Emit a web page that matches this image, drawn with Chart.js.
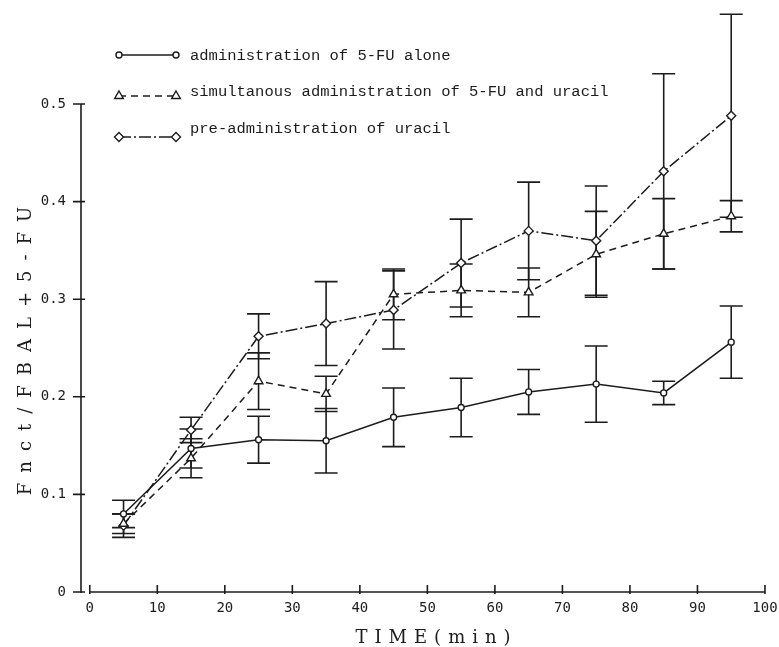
<!DOCTYPE html>
<html>
<head>
<meta charset="utf-8">
<script src="https://cdn.jsdelivr.net/npm/chart.js@4/dist/chart.umd.min.js"></script>
<style>
    html, body {
        margin: 0;
        padding: 0;
        background: #fff;
    }
    #wraper {
        width: 779px;
        height: 647px;
    }
</style>
</head>
<body>
<div id="wraper"><canvas id="chart" width="779" height="647"></canvas></div>
<script>
var TIMES = [5, 15, 25, 35, 45, 55, 65, 75, 85, 95];

// administration of 5-FU alone
var ALONE_MEAN = [0.080, 0.147, 0.156, 0.155, 0.179, 0.189, 0.205, 0.213, 0.204, 0.256];
var ALONE_ERR = [0.014, 0.020, 0.024, 0.033, 0.030, 0.030, 0.023, 0.039, 0.012, 0.037];

// simultanous administration
var SIMUL_MEAN = [0.070, 0.137, 0.216, 0.203, 0.305, 0.309, 0.307, 0.346, 0.367, 0.385];
var SIMUL_ERR = [0.010, 0.020, 0.029, 0.018, 0.026, 0.027, 0.025, 0.044, 0.036, 0.016];

// pre-administration of uracil
var PRE_MEAN = [0.068, 0.166, 0.262, 0.275, 0.289, 0.337, 0.370, 0.360, 0.431, 0.488];
var PRE_ERR = [0.012, 0.013, 0.023, 0.043, 0.040, 0.045, 0.050, 0.056, 0.100, 0.104];

var X_TICKS = [0, 10, 20, 30, 40, 50, 60, 70, 80, 90, 100];
var Y_TICKS = [0, 0.1, 0.2, 0.3, 0.4, 0.5];

var LEGEND_LABELS = [
    "administration of 5-FU alone",
    "simultanous administration of 5-FU and uracil",
    "pre-administration of uracil"
];
var X_TITLE = "TIME(min)";
var Y_TITLE = "Fnct/FBAL+5-FU";

var INK = "#1c1c1c";
var ERRORS = [ALONE_ERR, SIMUL_ERR, PRE_ERR];

function toPoints(means) {
    return TIMES.map(function(t, i) {
        return { x: t, y: means[i] };
    });
}

function fixTicks(values) {
    return function(scale) {
        scale.ticks = values.map(function(v) {
            return { value: v };
        });
    };
}

// error bars under the lines
var errorBars = {
    id: "errorBars",
    beforeDatasetsDraw: function(chart) {
        var ctx = chart.ctx,
            xs = chart.scales.x,
            ys = chart.scales.y,
            cap = 11.5;

        ctx.save();
        ctx.strokeStyle = INK;
        ctx.lineWidth = 1.6;
        chart.data.datasets.forEach(function(ds, d) {
            var errs = ERRORS[d];
            ds.data.forEach(function(p, i) {
                var x = xs.getPixelForValue(p.x),
                    top = ys.getPixelForValue(p.y + errs[i]),
                    bot = ys.getPixelForValue(p.y - errs[i]);
                ctx.beginPath();
                ctx.moveTo(x, top);
                ctx.lineTo(x, bot);
                ctx.moveTo(x - cap, top);
                ctx.lineTo(x + cap, top);
                ctx.moveTo(x - cap, bot);
                ctx.lineTo(x + cap, bot);
                ctx.stroke();
            });
        });
        ctx.restore();
    }
};

// axis lines, tick marks, titles and the legend box
var decorations = {
    id: "decorations",
    afterDraw: function(chart) {
        var ctx = chart.ctx,
            xs = chart.scales.x,
            ys = chart.scales.y,
            area = chart.chartArea,
            y0 = ys.getPixelForValue(0);

        ctx.save();
        ctx.strokeStyle = INK;
        ctx.lineWidth = 1.6;

        ctx.beginPath();
        ctx.moveTo(area.left, y0 + 1);
        ctx.lineTo(area.left, ys.getPixelForValue(0.5));
        ctx.moveTo(xs.getPixelForValue(0), y0);
        ctx.lineTo(xs.getPixelForValue(100), y0);
        Y_TICKS.forEach(function(v) {
            var y = ys.getPixelForValue(v);
            ctx.moveTo(area.left - 8, y);
            ctx.lineTo(area.left + 4, y);
        });
        X_TICKS.forEach(function(v) {
            var x = xs.getPixelForValue(v);
            ctx.moveTo(x, y0 - 7);
            ctx.lineTo(x, y0 + 2);
        });
        ctx.stroke();

        // axis titles
        ctx.fillStyle = INK;
        ctx.font = "18px 'DejaVu Serif'";
        ctx.textBaseline = "middle";
        ctx.textAlign = "left";

        ctx.letterSpacing = "7px";
        var w = ctx.measureText(X_TITLE).width - 7;
        ctx.fillText(X_TITLE, 433 - w / 2, 638);

        ctx.letterSpacing = "10px";
        w = ctx.measureText(Y_TITLE).width - 10;
        ctx.translate(26, 351);
        ctx.rotate(-Math.PI / 2);
        ctx.fillText(Y_TITLE, -w / 2, 0);
        ctx.setTransform(1, 0, 0, 1, 0, 0);
        ctx.letterSpacing = "0px";

        // legend
        var rows = [55, 96, 137],
            textRows = [56, 92, 129];
        ctx.font = "15.5px 'Liberation Mono'";
        chart.data.datasets.forEach(function(ds, i) {
            var y = rows[i];
            ctx.strokeStyle = INK;
            ctx.lineWidth = ds.borderWidth;
            ctx.setLineDash(ds.borderDash || []);
            ctx.beginPath();
            ctx.moveTo(119, y);
            ctx.lineTo(176, y);
            ctx.stroke();
            ctx.setLineDash([]);

            ctx.fillStyle = "#fff";
            ctx.lineWidth = ds.pointBorderWidth;
            [119, 176].forEach(function(x) {
                Chart.helpers.drawPoint(ctx, {
                    pointStyle: ds.pointStyle,
                    radius: ds.pointRadius,
                    rotation: 0,
                    borderWidth: ds.pointBorderWidth
                }, x, y);
            });

            ctx.fillStyle = INK;
            ctx.fillText(ds.label, 190, textRows[i]);
        });
        ctx.restore();
    }
};

var chart = new Chart(document.getElementById("chart").getContext("2d"), {
    type: "line",
    data: {
        datasets: [{
            label: LEGEND_LABELS[0],
            data: toPoints(ALONE_MEAN),
            borderColor: INK,
            borderWidth: 1.5,
            pointStyle: "circle",
            pointRadius: 3,
            pointBorderWidth: 1.4,
            pointBorderColor: INK,
            pointBackgroundColor: "#fff"
        }, {
            label: LEGEND_LABELS[1],
            data: toPoints(SIMUL_MEAN),
            borderColor: INK,
            borderWidth: 1.5,
            borderDash: [7, 5],
            pointStyle: "triangle",
            pointRadius: 5,
            pointBorderWidth: 1.4,
            pointBorderColor: INK,
            pointBackgroundColor: "#fff"
        }, {
            label: LEGEND_LABELS[2],
            data: toPoints(PRE_MEAN),
            borderColor: INK,
            borderWidth: 1.5,
            borderDash: [12, 3, 2, 3],
            pointStyle: "rectRot",
            pointRadius: 4.5,
            pointBorderWidth: 1.4,
            pointBorderColor: INK,
            pointBackgroundColor: "#fff"
        }]
    },
    options: {
        responsive: false,
        animation: false,
        layout: {
            padding: { top: 1, right: 12, left: 0, bottom: 0 }
        },
        plugins: {
            legend: { display: false },
            tooltip: { enabled: false }
        },
        scales: {
            x: {
                type: "linear",
                min: -1.3,
                max: 100.3,
                afterBuildTicks: fixTicks(X_TICKS),
                afterFit: function(scale) {
                    scale.height = 55;
                    scale.paddingLeft = 0;
                    scale.paddingRight = 0;
                },
                border: { display: false },
                grid: { display: false, drawTicks: false },
                ticks: {
                    padding: 8,
                    color: INK,
                    maxRotation: 0,
                    font: { family: "'DejaVu Sans Mono'", size: 14 },
                    callback: function(v) {
                        return String(v);
                    }
                }
            },
            y: {
                type: "linear",
                min: 0,
                max: 0.6,
                afterBuildTicks: fixTicks(Y_TICKS),
                afterFit: function(scale) {
                    scale.width = 81;
                    scale.paddingTop = 0;
                    scale.paddingBottom = 0;
                },
                border: { display: false },
                grid: { display: false, drawTicks: false },
                ticks: {
                    padding: 15,
                    color: INK,
                    font: { family: "'DejaVu Sans Mono'", size: 14 },
                    callback: function(v) {
                        return v === 0 ? "0" : v.toFixed(1);
                    }
                }
            }
        }
    },
    plugins: [errorBars, decorations]
});
</script>
</body>
</html>
